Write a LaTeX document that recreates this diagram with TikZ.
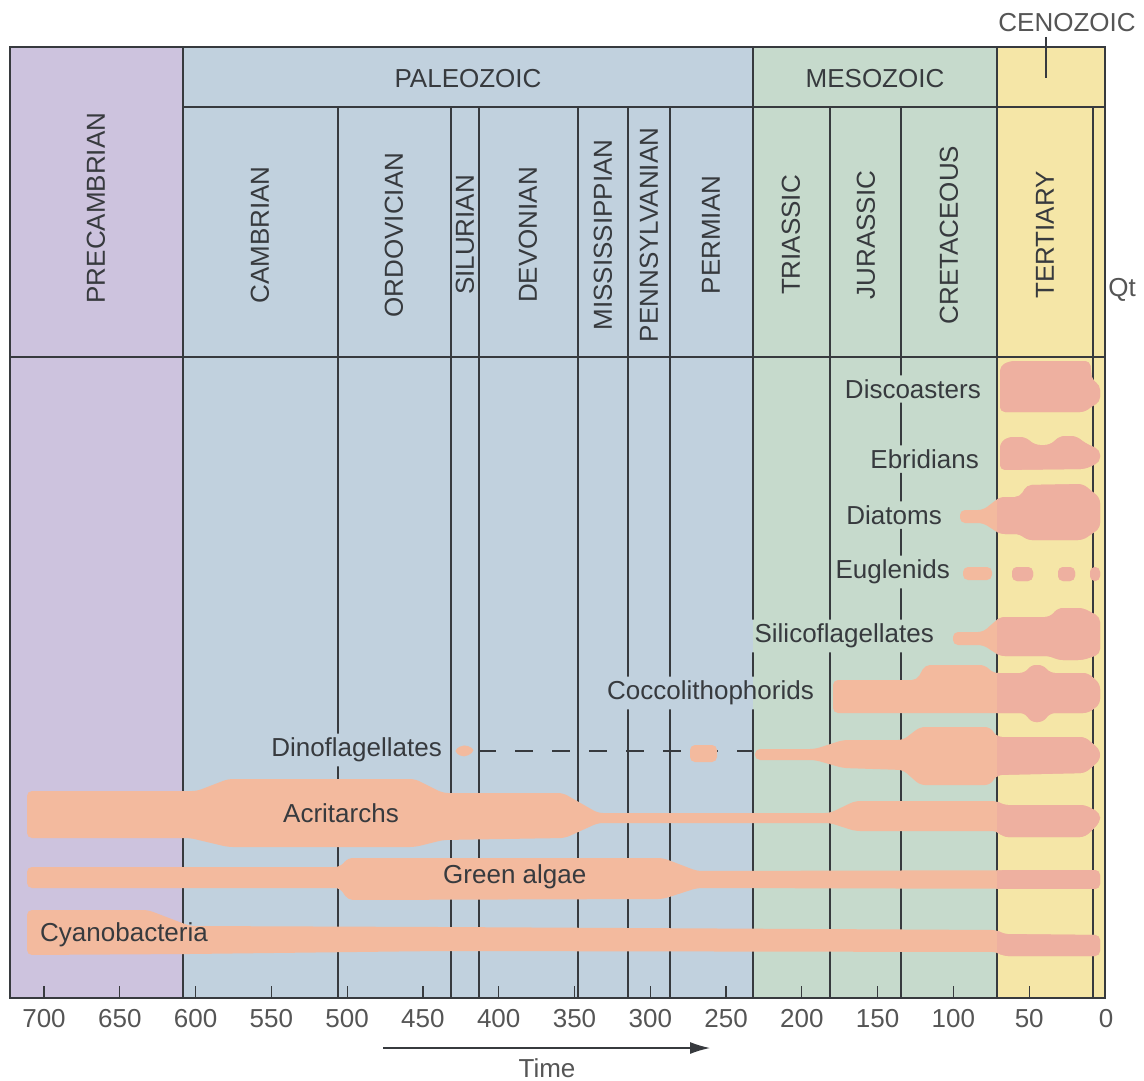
\documentclass[tikz,border=0pt]{standalone}
\usepackage{fontspec}
\setmainfont{Liberation Sans}
\usetikzlibrary{arrows.meta}
\definecolor{precam}{RGB}{205,195,222}
\definecolor{paleo}{RGB}{193,209,222}
\definecolor{meso}{RGB}{198,218,204}
\definecolor{ceno}{RGB}{245,230,167}
\definecolor{taxon}{RGB}{243,186,158}
\definecolor{taxonpink}{RGB}{238,176,160}
\definecolor{ink}{RGB}{55,58,62}
\definecolor{axisink}{RGB}{85,85,85}
\newcommand\taxabands[1]{%
\fill[band,#1] (27,910) -- (148,910) -- (190,926) -- (440,927) -- (997,930) -- (1003,934) -- (1100,935) -- (1100,956) -- (1003,956) -- (997,952) -- (440,951) -- (190,954) -- (27,955) -- cycle;
\fill[band,#1] (27,867) -- (340,867) -- (348,858) -- (663,858) -- (697,871) -- (1100,870) -- (1100,889) -- (697,888) -- (663,899) -- (348,900) -- (340,888) -- (27,888) -- cycle;
\fill[band,#1] (27,791) -- (197,791) -- (228,779) -- (415,779) -- (443,793) -- (563,793) -- (598,813) -- (830,813) -- (855,801) -- (997,801) -- (1003,805) -- (1085,805) -- (1100,813) -- (1100,822) -- (1085,837) -- (1003,837) -- (997,831) -- (855,831) -- (830,823) -- (598,823) -- (565,838) -- (443,840) -- (415,847) -- (228,847) -- (190,838) -- (27,838) -- cycle;
\fill[band,#1] (453,751) -- (464,744) -- (476,750) -- (464,758) -- cycle;
\fill[band,#1] (690,745) rectangle (717,762);
\fill[band,#1] (755,749) -- (815,749) -- (843,740) -- (903,740) -- (920,727) -- (990,727) -- (997,737) -- (1085,737) -- (1100,750) -- (1100,760) -- (1085,773) -- (997,775) -- (990,785) -- (920,785) -- (903,770) -- (843,768) -- (815,760) -- (755,760) -- cycle;
\fill[band,#1] (833,680) -- (917,680) -- (925,665) -- (985,665) -- (993,673) -- (1025,673) -- (1031,665) -- (1043,665) -- (1050,673) -- (1088,673) -- (1100,684) -- (1100,704) -- (1088,713) -- (1050,713) -- (1043,722) -- (1031,722) -- (1025,713) -- (833,713) -- cycle;
\fill[band,#1] (953,632) -- (983,632) -- (1000,617) -- (1050,617) -- (1058,608) -- (1083,608) -- (1100,617) -- (1100,654) -- (1083,660) -- (1058,660) -- (1050,656) -- (1000,656) -- (983,645) -- (953,645) -- cycle;
\fill[band,#1] (963,567) rectangle (992,580);
\fill[band,#1] (1012,567) rectangle (1033,581);
\fill[band,#1] (1058,567) rectangle (1075,581);
\fill[band,#1] (1090,567) rectangle (1100,581);
\fill[band,#1] (960,510) -- (983,510) -- (1000,497) -- (1020,497) -- (1027,485) -- (1083,484) -- (1100,498) -- (1100,528) -- (1083,540) -- (1027,540) -- (1020,534) -- (1000,534) -- (983,523) -- (960,523) -- cycle;
\fill[band,#1] (1000,443) -- (1008,437) -- (1025,437) -- (1035,445) -- (1050,445) -- (1060,436) -- (1076,436) -- (1085,443) -- (1100,450) -- (1100,462) -- (1085,469) -- (1000,470) -- cycle;
\fill[band,#1] (1000,366) -- (1010,361) -- (1090,361) -- (1092,380) -- (1100,385) -- (1100,402) -- (1092,406) -- (1085,412) -- (1000,412) -- cycle;
}
\begin{document}
\begin{tikzpicture}[x=1pt,y=-1pt,
  frameline/.style={draw=ink,line width=1.4pt},
  lbl/.style={text=ink,font=\fontsize{26}{30}\selectfont,inner sep=4pt},
  rlbl/.style={lbl,rotate=90},
  axlbl/.style={text=axisink,font=\fontsize{26}{30}\selectfont,inner sep=2pt},
  band/.style={fill=taxon,draw=none,rounded corners=5pt}]
\useasboundingbox (0,0) rectangle (1144,1081);
% backgrounds
\fill[precam] (10,47) rectangle (183,998);
\fill[paleo] (183,47) rectangle (753,998);
\fill[meso] (753,47) rectangle (997,998);
\fill[ceno] (997,47) rectangle (1105,998);
% header labels
\node[lbl] (paleozoic) at (468,79) {PALEOZOIC};
\node[lbl] (mesozoic) at (875,79) {MESOZOIC};
\node[axlbl] (cenozoic) at (1067,23) {CENOZOIC};
\coordinate (cenoA) at (1046,37);
\coordinate (cenoB) at (1046,78);
\draw[ink,line width=1.2pt] (cenoA) -- (cenoB);
\node[axlbl] (qt) at (1122,290) {Qt};
\node[rlbl] (precambrian) at (96,208) {PRECAMBRIAN};
\node[rlbl] (cambrian) at (260,235) {CAMBRIAN};
\node[rlbl] (ordovician) at (394,235) {ORDOVICIAN};
\node[rlbl] (silurian) at (465,235) {SILURIAN};
\node[rlbl] (devonian) at (528,235) {DEVONIAN};
\node[rlbl] (mississippian) at (603,235) {MISSISSIPPIAN};
\node[rlbl] (pennsylvanian) at (649,235) {PENNSYLVANIAN};
\node[rlbl] (permian) at (711,235) {PERMIAN};
\node[rlbl] (triassic) at (791,235) {TRIASSIC};
\node[rlbl] (jurassic) at (866,235) {JURASSIC};
\node[rlbl] (cretaceous) at (949,235) {CRETACEOUS};
\node[rlbl] (tertiary) at (1045,235) {TERTIARY};
% taxon labels that cut the period lines
\node[lbl,anchor=east] (discoasters) at (985,389) {Discoasters};
\node[lbl,anchor=east] (ebridians) at (983,459) {Ebridians};
\node[lbl,anchor=east] (diatoms) at (946,515) {Diatoms};
\node[lbl,anchor=east] (euglenids) at (954,572) {Euglenids};
\node[lbl,anchor=east] (silico) at (938,636) {Silicoflagellates};
\node[lbl,anchor=east] (cocco) at (818,693) {Coccolithophorids};
\node[lbl,anchor=east] (dino) at (446,750) {Dinoflagellates};
% lines, with the label boxes left open
\begin{scope}
\clip (0,0) -- (1144,0) -- (1144,1081) -- (0,1081) -- cycle
  (discoasters.north west) -- (discoasters.south west) -- (discoasters.south east) -- (discoasters.north east) -- cycle
  (ebridians.north west) -- (ebridians.south west) -- (ebridians.south east) -- (ebridians.north east) -- cycle
  (diatoms.north west) -- (diatoms.south west) -- (diatoms.south east) -- (diatoms.north east) -- cycle
  (euglenids.north west) -- (euglenids.south west) -- (euglenids.south east) -- (euglenids.north east) -- cycle
  (silico.north west) -- (silico.south west) -- (silico.south east) -- (silico.north east) -- cycle
  (cocco.north west) -- (cocco.south west) -- (cocco.south east) -- (cocco.north east) -- cycle
  (dino.north west) -- (dino.south west) -- (dino.south east) -- (dino.north east) -- cycle;
\foreach \x in {183,753,997} \draw[frameline] (\x,47) -- (\x,998);
\foreach \x in {338,451,479,578,628,670,830,901,1093} \draw[frameline] (\x,107) -- (\x,998);
\end{scope}
\draw[frameline] (183,107) -- (1105,107);
\draw[frameline] (10,357) -- (1105,357);
\draw[frameline] (10,47) rectangle (1105,998);
\draw[ink,line width=2pt] (10,998) -- (1105,998);
% time axis
\foreach \t in {50,100,...,700} \draw[ink,line width=1.2pt] ({1105-1.5157*\t},986) -- ({1105-1.5157*\t},998);
\foreach \t in {50,100,...,700} \node[axlbl] (ax\t) at ({1105-1.5157*\t},1019) {\t};
\node[axlbl] (ax0) at (1106,1019) {0};
\coordinate (timeA) at (383,1048);
\coordinate (timeB) at (710,1048);
\draw[ink,line width=1.3pt,-{Latex[length=20pt,width=12pt]}] (timeA) -- (timeB);
\node[axlbl] (time) at (547,1068) {Time};
% dinoflagellate gap in the record
\coordinate (dinoA) at (478,751);
\coordinate (dinoB) at (753,751);
\draw[ink,line width=1.4pt,dash pattern=on 18pt off 19pt] (dinoA) -- (dinoB);
% taxon ranges
\taxabands{fill=taxon}
\begin{scope}
\clip (997,47) rectangle (1105,998);
\taxabands{fill=taxonpink}
\end{scope}
% labels inside bands
\node[lbl,anchor=west] (acritarchs) at (279,813) {Acritarchs};
\node[lbl,anchor=west] (greenalgae) at (439,877) {Green algae};
\node[lbl,anchor=west] (cyano) at (36,935) {Cyanobacteria};
\end{tikzpicture}
\end{document}
